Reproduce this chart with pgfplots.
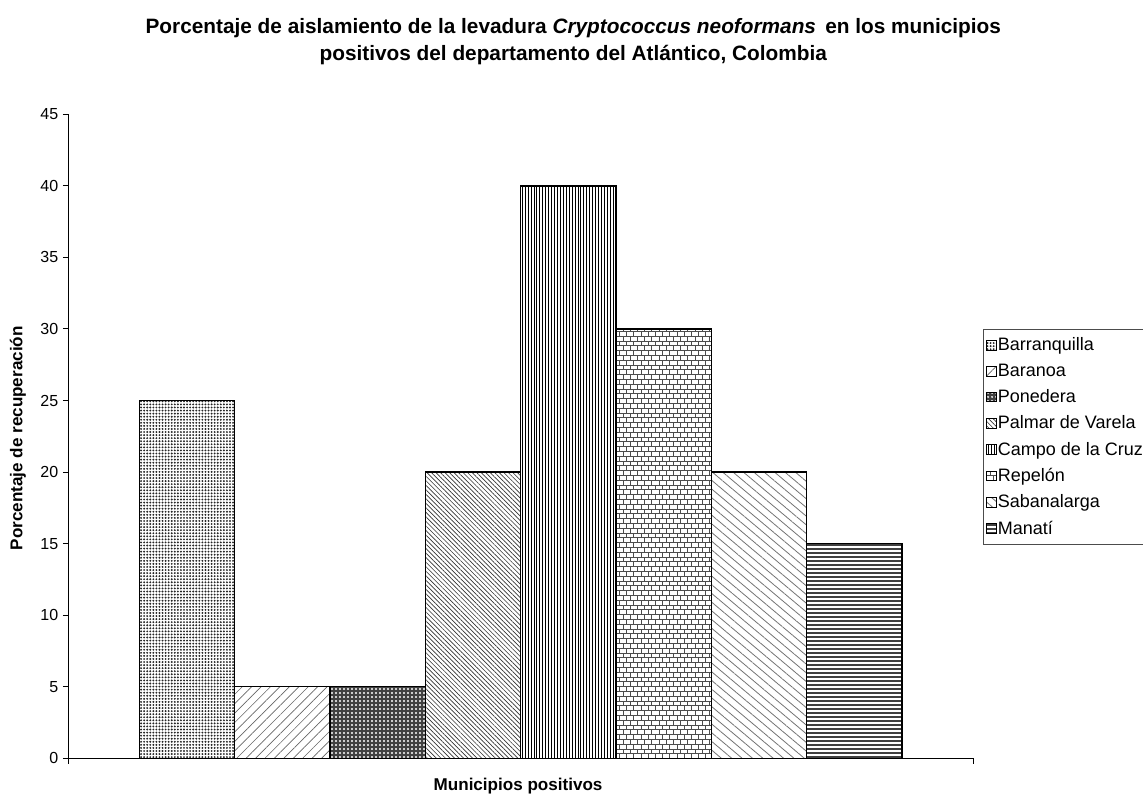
\documentclass[border=0pt]{standalone}
\usepackage{pgfplots}
\pgfplotsset{compat=1.18}
\usepackage{fontspec}
\setmainfont{Liberation Sans}
\usetikzlibrary{patterns,patterns.meta}

% small brick tiles, as in the original
\tikzdeclarepattern{
  name=smallbricks,
  type=uncolored,
  bottom left={(-0.5pt,-0.5pt)},
  top right={(6pt,7.7pt)},
  tile size={(5.4pt,7.2pt)},
  code={
    \draw[line width=0.5pt] (0pt,0pt) -- (5.4pt,0pt) (0pt,3.6pt) -- (5.4pt,3.6pt)
      (0pt,0pt) -- (0pt,3.6pt) (2.7pt,3.6pt) -- (2.7pt,7.2pt);
  }
}

\begin{document}
\begin{tikzpicture}
\begin{axis}[
  at={(0,0)}, anchor=south west,
  width=678.75pt, height=483pt, scale only axis,
  xmin=-1.245, xmax=8.248,
  ymin=0, ymax=45,
  ytick={0,5,...,45},
  xtick={-1.245,8.248}, xticklabels={},
  axis lines*=left,
  axis line style={black, line width=0.8pt},
  tick align=outside, major tick length=4pt,
  tick style={black, line width=0.8pt},
  tick label style={font=\fontsize{12}{14}\selectfont},
  /pgf/number format/assume math mode=true,
  title={Porcentaje de aislamiento de la levadura \textit{Cryptococcus neoformans}\, en los municipios\\positivos del departamento del Atlántico, Colombia},
  title style={at={(0.558,1.101)}, anchor=center, align=center, font=\fontsize{15.6}{20.25}\selectfont\bfseries},
  xlabel={Municipios positivos},
  xlabel style={at={(0.497,-0.043)}, anchor=center, font=\fontsize{12.8}{14}\selectfont\bfseries},
  ylabel={Porcentaje de recuperación},
  ylabel style={at={(-0.0556,0.497)}, anchor=center, font=\fontsize{12.8}{14}\selectfont\bfseries},
  legend style={at={(1.0107,0.499)}, anchor=west, draw=black!70, line width=0.6pt,
    font=\fontsize{13.5}{15}\selectfont, row sep=4.4pt, inner xsep=2pt, inner ysep=4pt,
    /tikz/every odd column/.style={column sep=-1pt}},
  legend cell align=left,
  area legend,
  legend image code/.code={\draw[#1, line width=0.6pt] (0pt,-3.6pt) rectangle (7.2pt,3.6pt);},
  every axis plot/.append style={ybar, bar width=1, bar shift=0pt, draw=black, line width=1pt},
]
\addplot[pattern={Dots[distance=2.3pt, radius=0.8pt]}, pattern color=black!85] coordinates {(0,25)};
\addlegendentry{Barranquilla}
\addplot[pattern={Lines[angle=45, distance=5pt, line width=0.5pt]}, pattern color=black!60] coordinates {(1,5)};
\addlegendentry{Baranoa}
\addplot[fill=black!75, postaction={pattern={Dots[distance=3pt, radius=0.8pt]}, pattern color=white}] coordinates {(2,5)};
\addlegendentry{Ponedera}
\addplot[pattern={Lines[angle=-45, distance=2.4pt, line width=0.5pt]}, pattern color=black!80] coordinates {(3,20)};
\addlegendentry{Palmar de Varela}
\addplot[pattern={Lines[angle=90, distance=2.2pt, line width=0.6pt]}, pattern color=black] coordinates {(4,40)};
\addlegendentry{Campo de la Cruz}
\addplot[pattern=smallbricks, pattern color=black!70] coordinates {(5,30)};
\addlegendentry{Repelón}
\addplot[pattern={Lines[angle=-40, distance=5pt, line width=0.6pt]}, pattern color=black!55] coordinates {(6,20)};
\addlegendentry{Sabanalarga}
\addplot[pattern={Lines[angle=0, distance=3pt, line width=1pt]}, pattern color=black!75] coordinates {(7,15)};
\addlegendentry{Manatí}
\end{axis}
\pgfresetboundingbox
\path[use as bounding box] (-51.2pt,-29pt) rectangle (806pt,568.7pt);
\end{tikzpicture}
\end{document}
